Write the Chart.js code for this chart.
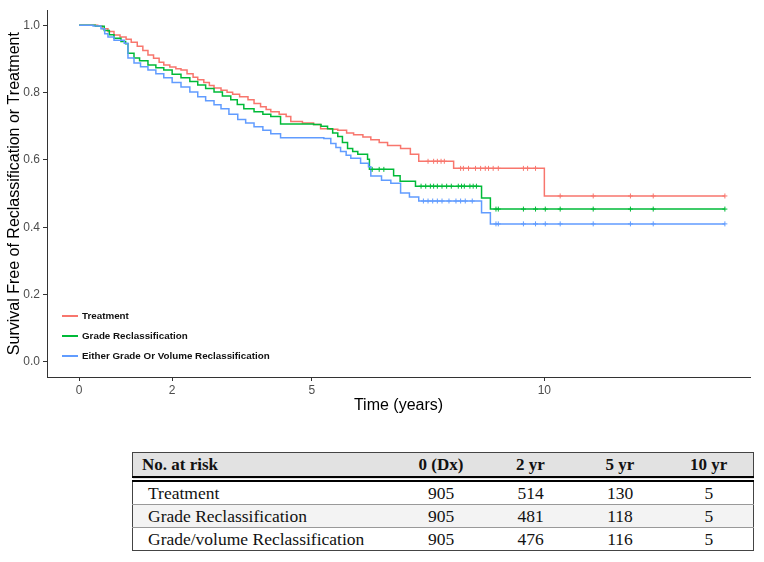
<!DOCTYPE html>
<html>
<head>
<meta charset="utf-8">
<script src="https://cdn.jsdelivr.net/npm/chart.js@4.4.1/dist/chart.umd.min.js"></script>
<style>
  body { margin: 0; background: #fff; }
  #wrap { position: relative; width: 764px; height: 420px; }
  #risk {
    position: absolute; left: 132px; top: 452px; width: 621px;
    table-layout: fixed; border-collapse: collapse; border: 1px solid #444;
    font-family: "Liberation Serif", serif; font-size: 17.5px; color: #111;
  }
  #risk th { background: #e2e2e2; font-weight: bold; font-size: 17px; height: 23px; padding: 0; border-bottom: 6px double #000; }
  #risk td { height: 22px; padding: 0; border-top: 1px solid #999; }
  #risk tr:nth-child(3) td { background: #f3f3f3; }
  #risk th:first-child { text-align: left; padding-left: 9px; }
  #risk td:first-child { text-align: left; padding-left: 15px; }
  #risk th, #risk td { text-align: center; }
</style>
</head>
<body>
<div id="wrap"><canvas id="km"></canvas></div>
<table id="risk"></table>
<script>
// Kaplan-Meier curves (time in years, survival)
const treatT = [0, 0.40, 0.50, 0.62, 0.75, 0.88, 1.01, 1.12, 1.25, 1.37, 1.48, 1.60, 1.72, 1.82, 1.95, 2.08, 2.19, 2.32, 2.45, 2.55, 2.68, 2.80, 2.90, 3.05, 3.18, 3.30, 3.45, 3.63, 3.76, 3.90, 4.02, 4.12, 4.30, 4.45, 4.55, 4.80, 5.04, 5.19, 5.40, 5.56, 5.75, 5.90, 6.10, 6.27, 6.45, 6.63, 6.91, 7.12, 7.30, 8.05, 10.0, 13.88];
const treatS = [1.000, 0.997, 0.990, 0.982, 0.971, 0.965, 0.959, 0.950, 0.938, 0.925, 0.912, 0.902, 0.890, 0.882, 0.876, 0.871, 0.867, 0.856, 0.846, 0.838, 0.830, 0.821, 0.814, 0.807, 0.801, 0.795, 0.788, 0.779, 0.768, 0.758, 0.750, 0.743, 0.736, 0.729, 0.714, 0.710, 0.705, 0.693, 0.691, 0.688, 0.680, 0.675, 0.668, 0.660, 0.652, 0.643, 0.634, 0.617, 0.596, 0.575, 0.493, 0.493];

const gradeT = [0, 0.35, 0.54, 0.65, 0.75, 0.90, 1.00, 1.05, 1.18, 1.30, 1.48, 1.65, 1.82, 2.00, 2.19, 2.38, 2.55, 2.72, 2.90, 3.08, 3.26, 3.40, 3.54, 3.76, 3.95, 4.12, 4.33, 5.04, 5.20, 5.34, 5.45, 5.56, 5.66, 5.77, 5.88, 5.99, 6.20, 6.24, 6.76, 6.90, 7.23, 8.65, 8.84, 13.88];
const gradeS = [1.000, 0.997, 0.985, 0.972, 0.962, 0.952, 0.945, 0.917, 0.903, 0.895, 0.882, 0.874, 0.867, 0.855, 0.844, 0.833, 0.823, 0.812, 0.802, 0.790, 0.779, 0.765, 0.752, 0.743, 0.736, 0.729, 0.707, 0.705, 0.700, 0.693, 0.680, 0.670, 0.652, 0.634, 0.625, 0.617, 0.602, 0.572, 0.553, 0.537, 0.522, 0.487, 0.454, 0.454];

const eitherT = [0, 0.30, 0.47, 0.55, 0.62, 0.75, 0.97, 1.05, 1.18, 1.32, 1.48, 1.65, 1.82, 2.00, 2.19, 2.38, 2.55, 2.72, 2.90, 3.05, 3.22, 3.41, 3.58, 3.76, 3.95, 4.12, 4.33, 5.26, 5.41, 5.52, 5.62, 5.74, 5.84, 6.05, 6.22, 6.27, 6.50, 6.70, 6.91, 7.10, 7.30, 8.65, 8.84, 13.88];
const eitherS = [1.000, 0.998, 0.990, 0.975, 0.965, 0.956, 0.947, 0.903, 0.888, 0.877, 0.867, 0.856, 0.844, 0.830, 0.817, 0.802, 0.788, 0.776, 0.764, 0.752, 0.736, 0.720, 0.710, 0.699, 0.688, 0.678, 0.666, 0.664, 0.649, 0.637, 0.625, 0.614, 0.605, 0.590, 0.580, 0.552, 0.540, 0.531, 0.502, 0.490, 0.478, 0.443, 0.410, 0.410];

// censoring times (years)
const treatCens = [7.50, 7.62, 7.70, 7.78, 7.85, 8.20, 8.26, 8.37, 8.52, 8.63, 8.73, 8.80, 8.90, 9.01, 9.55, 9.64, 9.81, 10.34, 11.05, 11.85, 12.34, 13.88];
const gradeCens = [6.30, 6.45, 6.55, 7.35, 7.45, 7.55, 7.62, 7.70, 7.80, 7.90, 8.00, 8.15, 8.22, 8.28, 8.40, 8.47, 8.54, 8.96, 9.01, 9.55, 9.81, 10.02, 10.34, 11.05, 11.85, 12.34, 13.88];
const eitherCens = [7.40, 7.50, 7.60, 7.70, 7.80, 7.95, 8.10, 8.20, 8.30, 8.45, 8.96, 9.01, 9.55, 9.81, 10.02, 10.34, 11.05, 11.85, 12.34, 13.88];

const seriesNames = ['Treatment', 'Grade Reclassification', 'Either Grade Or Volume Reclassification'];
const seriesColors = ['#F8766D', '#00BA38', '#619CFF'];

const xTicks = [0, 2, 5, 10];
const yTicks = [0, 0.2, 0.4, 0.6, 0.8, 1.0];

// number at risk table
const riskHeader = ['No. at risk', '0 (Dx)', '2 yr', '5 yr', '10 yr'];
const riskNames = ['Treatment', 'Grade Reclassification', 'Grade/volume Reclassification'];
const riskTreat = [905, 514, 130, 5];
const riskGrade = [905, 481, 118, 5];
const riskEither = [905, 476, 116, 5];
const riskColWidths = [264, 89, 90, 89, 89];

function survAt(times, vals, t) {
    let s = vals[0];
    for (let i = 0; i < times.length; i++) {
        if (times[i] <= t) s = vals[i];
    }
    return s;
}

const curves = [[treatT, treatS, treatCens], [gradeT, gradeS, gradeCens], [eitherT, eitherS, eitherCens]];
let datasets = [];
curves.forEach((c, k) => {
    datasets.push({
        label: seriesNames[k],
        data: c[0].map((t, i) => ({ x: t, y: c[1][i] })),
        borderColor: seriesColors[k],
        borderWidth: 1.5,
        stepped: true,
        pointRadius: 0,
        fill: false,
        order: 3 - k
    });
});
curves.forEach((c, k) => {
    datasets.push({
        label: seriesNames[k] + ' censored',
        data: c[2].map(t => ({ x: t, y: survAt(c[0], c[1], t) })),
        showLine: false,
        pointStyle: 'cross',
        pointRadius: 2.5,
        borderWidth: 1,
        borderColor: seriesColors[k],
        backgroundColor: seriesColors[k]
    });
});

const insideLegend = {
    id: 'insideLegend',
    afterDraw(chart) {
        const ctx = chart.ctx;
        const left = chart.chartArea.left;
        ctx.save();
        ctx.font = 'bold 9.8px "Liberation Sans", Arial, sans-serif';
        ctx.textBaseline = 'middle';
        seriesNames.forEach((name, i) => {
            const y = 316 + i * 20;
            ctx.strokeStyle = seriesColors[i];
            ctx.lineWidth = 2;
            ctx.beginPath();
            ctx.moveTo(left + 15, y);
            ctx.lineTo(left + 31, y);
            ctx.stroke();
            ctx.fillStyle = '#111';
            ctx.fillText(name, left + 35, y);
        });
        ctx.restore();
    }
};

Chart.defaults.font.family = '"Liberation Sans", Arial, sans-serif';

new Chart('km', {
    type: 'line',
    data: { datasets: datasets },
    options: {
        responsive: true,
        maintainAspectRatio: false,
        animation: false,
        layout: { padding: { top: 8, right: 14, left: 0, bottom: 0 } },
        plugins: { legend: { display: false }, tooltip: { enabled: false } },
        scales: {
            x: {
                type: 'linear',
                min: -0.69,
                max: 14.42,
                afterBuildTicks: s => { s.ticks = xTicks.map(v => ({ value: v })); },
                afterFit: s => { s.height = 43; },
                ticks: { color: '#4d4d4d', font: { size: 12 }, padding: 2 },
                grid: { drawOnChartArea: false, tickLength: 4, color: '#333' },
                border: { color: '#333', width: 1 },
                title: { display: true, text: 'Time (years)', color: '#000', font: { size: 16 }, padding: { top: 0, bottom: 5 } }
            },
            y: {
                min: -0.045,
                max: 1.045,
                afterBuildTicks: s => { s.ticks = yTicks.map(v => ({ value: v })); },
                afterFit: s => { s.width = 47; },
                ticks: { color: '#4d4d4d', font: { size: 12 }, padding: 3, callback: v => v.toFixed(1) },
                grid: { drawOnChartArea: false, tickLength: 4, color: '#333' },
                border: { color: '#333', width: 1 },
                title: { display: true, text: 'Survival Free of Reclassification or Treatment', color: '#000', font: { size: 16 }, padding: { top: 5, bottom: 2 } }
            }
        }
    },
    plugins: [insideLegend]
});

// risk table
const table = document.getElementById('risk');
let html = '<colgroup>' + riskColWidths.map(w => '<col style="width:' + w + 'px">').join('') + '</colgroup>';
html += '<tr>' + riskHeader.map(h => '<th>' + h + '</th>').join('') + '</tr>';
[riskTreat, riskGrade, riskEither].forEach((row, i) => {
    html += '<tr><td>' + riskNames[i] + '</td>' + row.map(v => '<td>' + v + '</td>').join('') + '</tr>';
});
table.innerHTML = html;
</script>
</body>
</html>
